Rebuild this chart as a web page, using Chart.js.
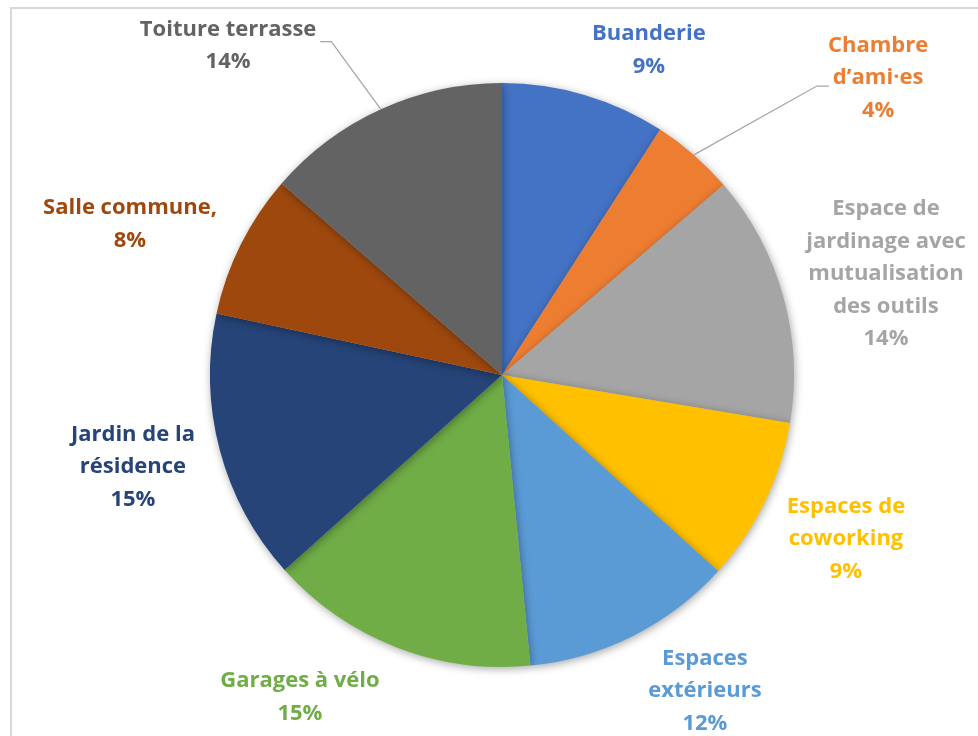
<!DOCTYPE html>
<html>
<head>
<meta charset="utf-8">
<script src="https://cdn.jsdelivr.net/npm/chart.js@4.4.0/dist/chart.umd.min.js"></script>
<style>
  html, body { margin: 0; padding: 0; background: #fff; }
  #wrap { width: 978px; height: 736px; }
</style>
</head>
<body>
<div id="wrap"><canvas id="pieChart" width="978" height="736"></canvas></div>
<script>
// categories, in clockwise order from 12 o'clock
const labels = [
    ["Buanderie"],
    ["Chambre", "d\u2019ami\u00b7es"],
    ["Espace de", "jardinage avec", "mutualisation", "des outils"],
    ["Espaces de", "coworking"],
    ["Espaces", "ext\u00e9rieurs"],
    ["Garages \u00e0 v\u00e9lo"],
    ["Jardin de la", "r\u00e9sidence"],
    ["Salle commune,"],
    ["Toiture terrasse"]
];
const shares = [9.1, 4.6, 13.9, 9.1, 11.7, 14.9, 15.0, 8.0, 13.6];
const percentText = ["9%", "4%", "14%", "9%", "12%", "15%", "15%", "8%", "14%"];
const colors = ["#4472C4", "#ED7D31", "#A5A5A5", "#FFC000", "#5B9BD5", "#70AD47", "#264478", "#9E480E", "#636363"];

// label block centre, in pie radii from the centre; leader = elbow side (or null)
const labelPlace = [
    { kx: 0.503, ky: -1.113, leader: null },
    { kx: 1.288, ky: -1.017, leader: "left" },
    { kx: 1.315, ky: -0.346, leader: null },
    { kx: 1.178, ky: 0.562, leader: null },
    { kx: 0.695, ky: 1.082, leader: null },
    { kx: -0.692, ky: 1.103, leader: null },
    { kx: -1.264, ky: 0.315, leader: null },
    { kx: -1.274, ky: -0.517, leader: null },
    { kx: -0.938, ky: -1.127, leader: "right" }
];

const FONT = "bold 22px 'Open Sans', Lato, sans-serif";
const LINE_H = 32.5;

const framePlugin = {
    id: "frame",
    beforeDraw(chart) {
        const c = chart.ctx;
        c.save();
        c.strokeStyle = "#d9d9d9";
        c.lineWidth = 2;
        c.beginPath();
        c.moveTo(11, chart.height);
        c.lineTo(11, 8);
        c.lineTo(chart.width, 8);
        c.stroke();
        c.restore();
    }
};

const shadowPlugin = {
    id: "pieShadow",
    beforeDatasetsDraw(chart) {
        const c = chart.ctx;
        c.save();
        c.shadowColor = "rgba(0,0,0,0.35)";
        c.shadowBlur = 9;
        c.shadowOffsetX = 1;
        c.shadowOffsetY = 2;
    },
    afterDatasetsDraw(chart) {
        chart.ctx.restore();
    }
};

const labelPlugin = {
    id: "sliceLabels",
    afterDatasetsDraw(chart) {
        const c = chart.ctx;
        const arcs = chart.getDatasetMeta(0).data;
        c.save();
        c.font = FONT;
        c.textAlign = "center";
        c.textBaseline = "middle";
        arcs.forEach((arc, i) => {
            const cx = arc.x, cy = arc.y, r = arc.outerRadius;
            const p = labelPlace[i];
            const lines = labels[i].concat([percentText[i]]);
            const bx = cx + p.kx * r;
            const by = cy + p.ky * r;
            const top = by - (lines.length - 1) * LINE_H / 2;

            if (p.leader) {
                const mid = (arc.startAngle + arc.endAngle) / 2;
                const ex = cx + Math.cos(mid) * r;
                const ey = cy + Math.sin(mid) * r;
                const firstW = c.measureText(lines[0]).width;
                let sx, sy, kx;
                if (p.leader === "right") {
                    sx = bx + firstW / 2 + 4; sy = top + 12; kx = sx + 11;
                } else {
                    sy = top + LINE_H + 8;
                    sx = bx - c.measureText(lines[1]).width / 2 - 4; kx = sx - 12;
                }
                c.strokeStyle = "#a6a6a6";
                c.lineWidth = 1.3;
                c.beginPath();
                c.moveTo(sx, sy);
                c.lineTo(kx, sy);
                c.lineTo(ex, ey);
                c.stroke();
            }

            c.fillStyle = colors[i];
            lines.forEach((t, j) => c.fillText(t, bx, top + j * LINE_H));
        });
        c.restore();
    }
};

const ctx = document.getElementById("pieChart").getContext("2d");

const pieChart = new Chart(ctx, {
    type: "pie",
    data: {
        labels: labels.map(l => l.join(" ")),
        datasets: [{
            data: shares,
            backgroundColor: colors,
            borderWidth: 0
        }]
    },
    options: {
        responsive: false,
        animation: false,
        layout: { padding: { left: 210, right: 184, top: 83, bottom: 69 } },
        plugins: {
            legend: { display: false },
            tooltip: { enabled: false }
        }
    },
    plugins: [framePlugin, shadowPlugin, labelPlugin]
});
</script>
</body>
</html>
